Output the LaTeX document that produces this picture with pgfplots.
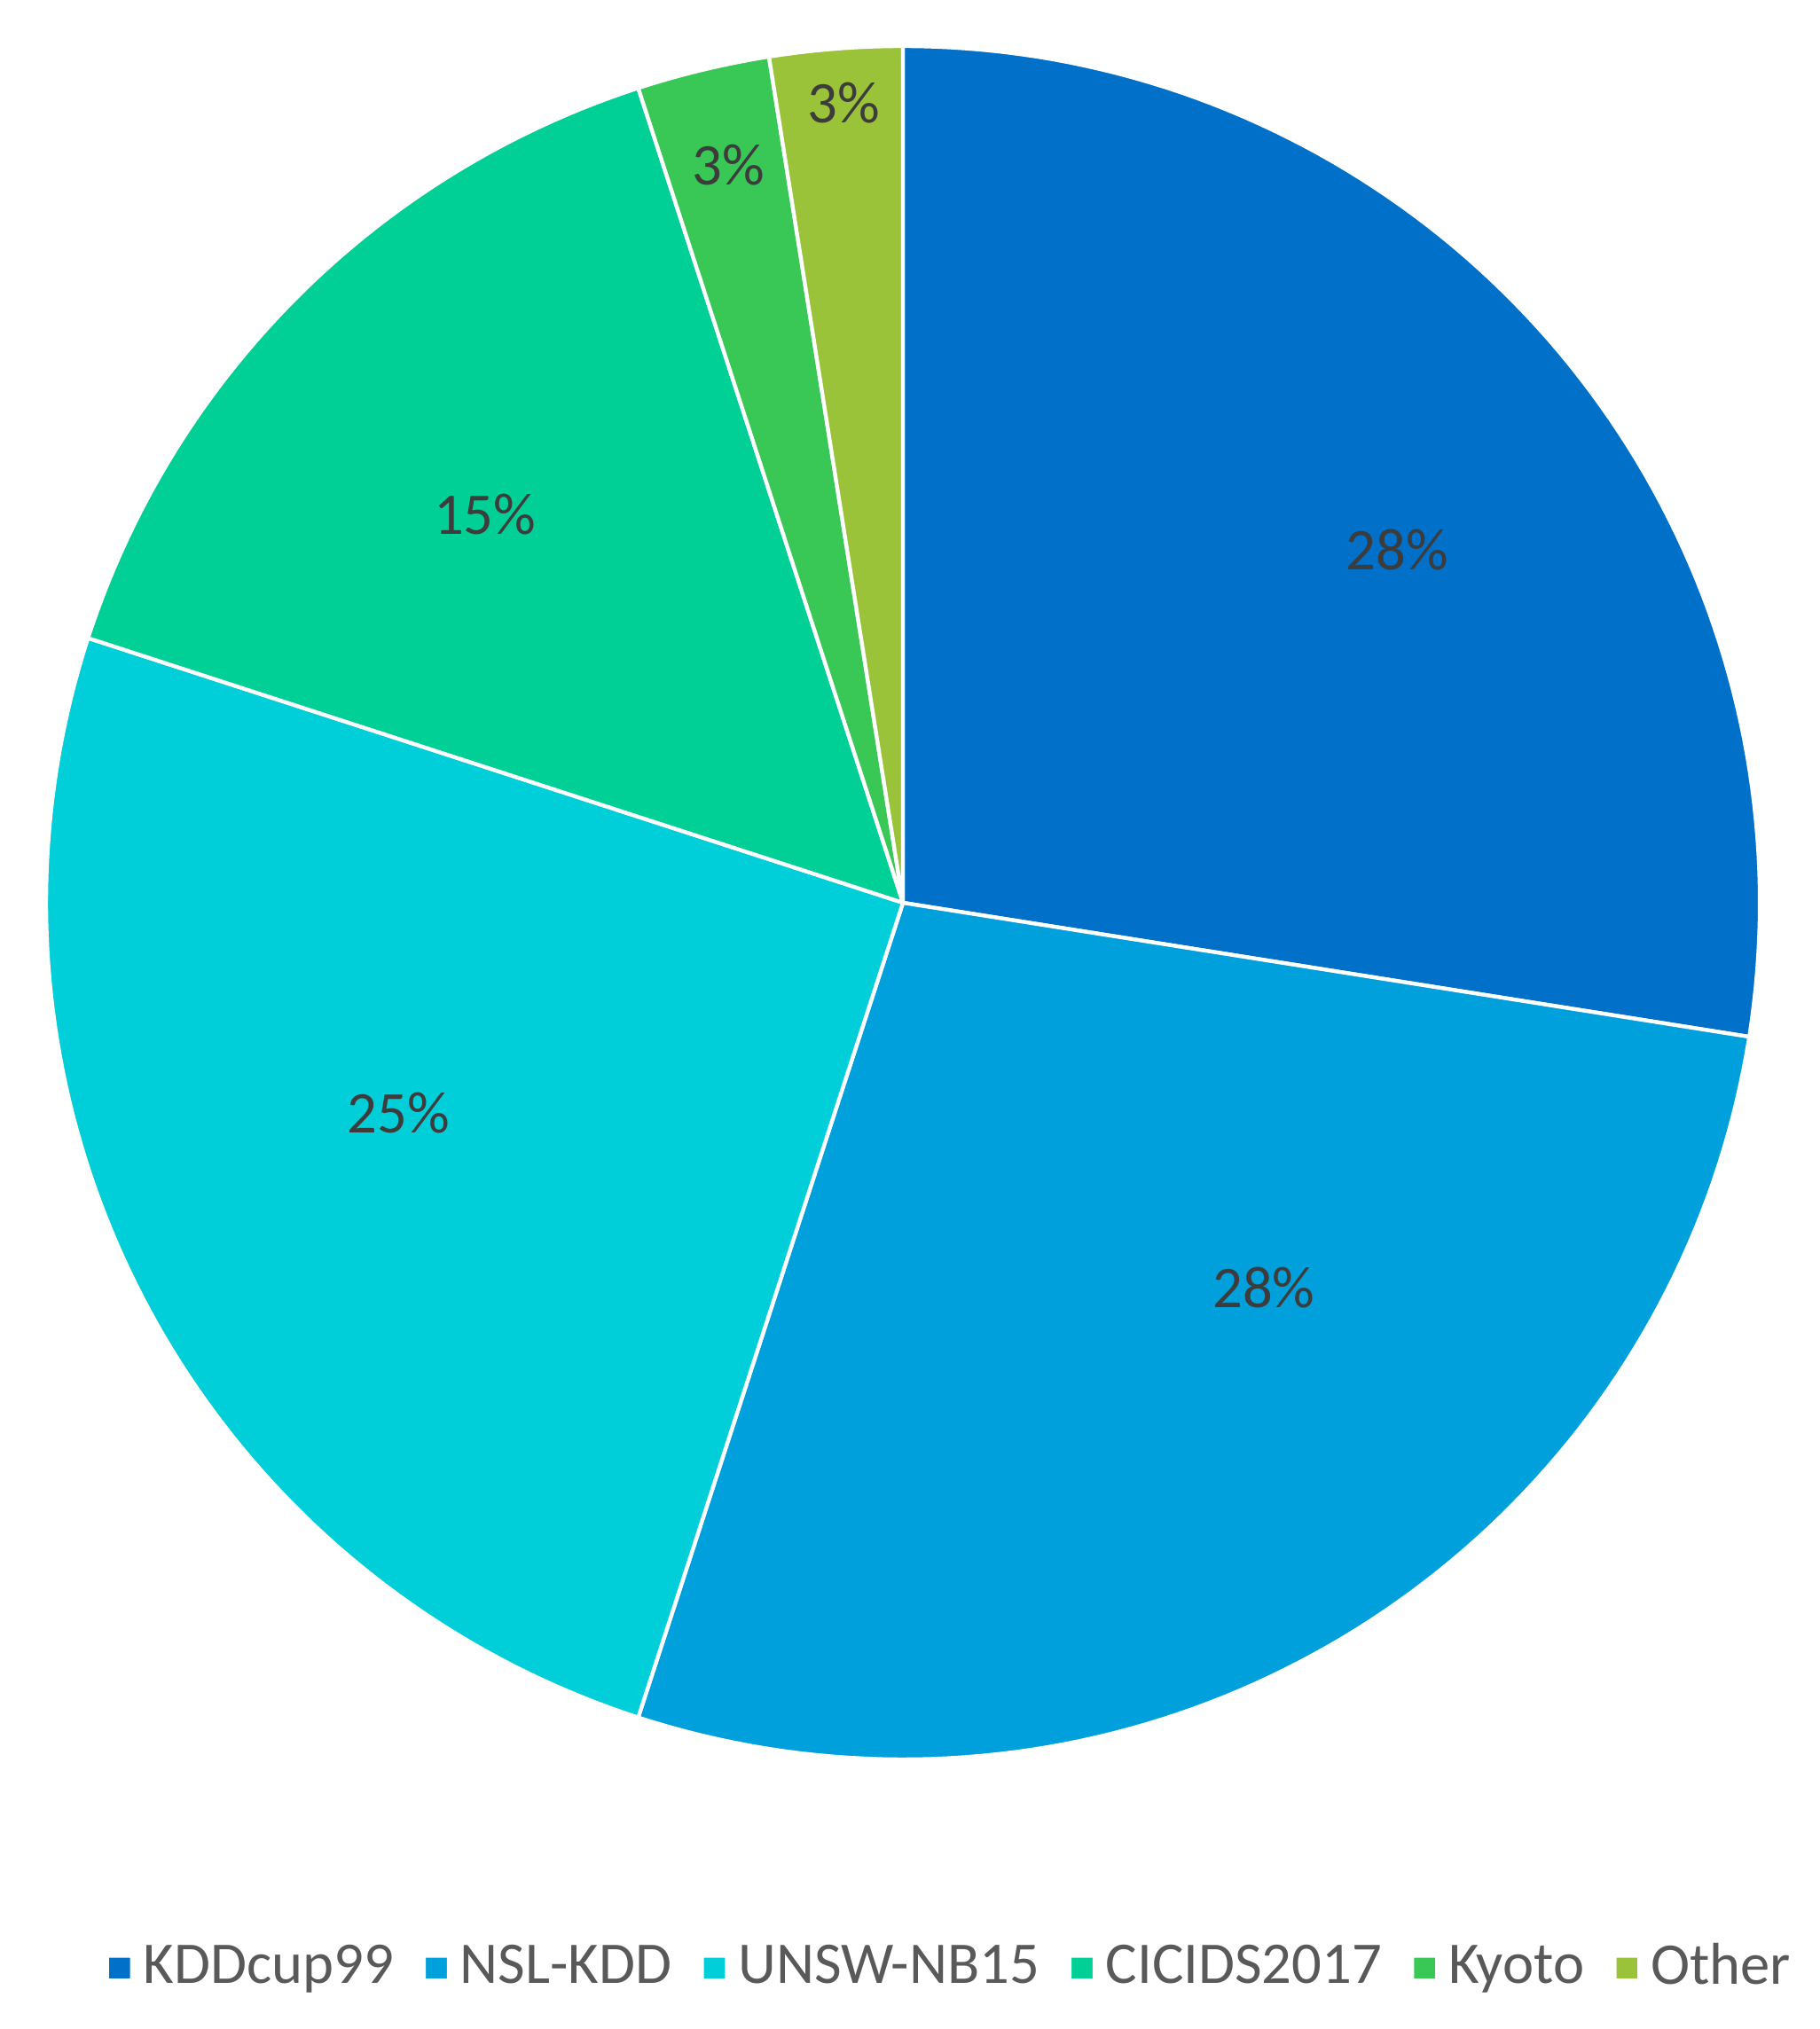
\documentclass[border=0pt]{standalone}
\usepackage{pgfplots}
\usepackage{pgfplotstable}
\pgfplotsset{compat=1.18}
\usepackage{fontspec}
\setmainfont{Carlito}

\definecolor{slice0}{RGB}{0,112,200}
\definecolor{slice1}{RGB}{0,160,220}
\definecolor{slice2}{RGB}{0,207,218}
\definecolor{slice3}{RGB}{0,208,150}
\definecolor{slice4}{RGB}{57,200,85}
\definecolor{slice5}{RGB}{155,195,57}
\definecolor{labeltext}{RGB}{60,60,60}
\definecolor{legtext}{RGB}{89,89,89}

% counts per dataset (shares: 27.5, 27.5, 25, 15, 2.5, 2.5 %)
\pgfplotstableread{
name value
KDDcup99 11
NSL-KDD 11
UNSW-NB15 10
CICIDS2017 6
Kyoto 1
Other 1
}\piedata

\begin{document}
\begin{tikzpicture}[font=\fontsize{10}{12}\selectfont]
% cumulative angles, clockwise from 12 o'clock
\def\total{40}
\def\cum{0}
\pgfplotsforeachungrouped \i in {0,...,5}{%
  \pgfplotstablegetelem{\i}{value}\of\piedata
  \pgfmathsetmacro\a{90-360*\cum/\total}%
  \pgfmathsetmacro\cumnew{\cum+\pgfplotsretval}%
  \pgfmathsetmacro\b{90-360*\cumnew/\total}%
  \expandafter\xdef\csname start\i\endcsname{\a}%
  \expandafter\xdef\csname end\i\endcsname{\b}%
  \xdef\cum{\cumnew}%
}
\begin{axis}[
  scale only axis,
  width=307.85pt, height=343.4pt,
  xmin=-1.0538, xmax=1.0693,
  ymin=-1.3147, ymax=1.0538,
  hide axis,
  clip=false,
  legend style={at={(axis cs:0.058,-1.244)}, anchor=center, draw=none, fill=none,
    text=legtext, legend columns=-1, inner sep=0pt,
    nodes={inner sep=1.6pt},
    /tikz/every even column/.append style={column sep=3.2pt}},
  legend image code/.code={\fill[#1,rounded corners=0.3pt] (-1pt,-2.05pt) rectangle (3.2pt,2.15pt);},
]
\pgfplotsinvokeforeach{0,...,5}{
  \addplot[fill=slice#1, draw=white, line width=0.65pt, line join=round,
    domain=\csname end#1\endcsname:\csname start#1\endcsname, samples=90, variable=\t]
    ({cos(\t)},{sin(\t)}) -- (axis cs:0,0) -- cycle;
  \pgfplotstablegetelem{#1}{name}\of\piedata
  \addlegendentryexpanded{\pgfplotsretval}
}
\coordinate (bl) at (rel axis cs:0,0);
\coordinate (tr) at (rel axis cs:1,1);
\begin{scope}[text=labeltext]
\node at (axis cs:0.577,0.412) {28\%};
\node at (axis cs:0.421,-0.449) {28\%};
\node at (axis cs:-0.589,-0.245) {25\%};
\node at (axis cs:-0.488,0.453) {15\%};
\node at (axis cs:-0.204,0.861) {3\%};
\node at (axis cs:-0.069,0.934) {3\%};
\end{scope}
\end{axis}
\pgfresetboundingbox
\path[use as bounding box] (bl) rectangle (tr);
\end{tikzpicture}
\end{document}
